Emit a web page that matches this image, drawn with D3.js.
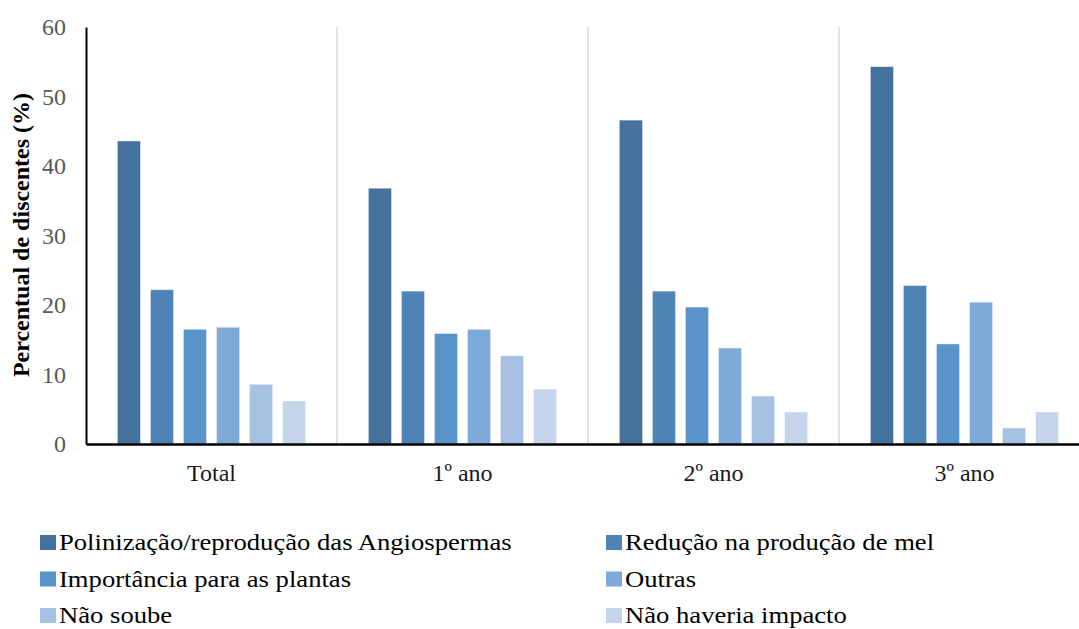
<!DOCTYPE html>
<html><head><meta charset="utf-8">
<script src="https://cdn.jsdelivr.net/npm/d3@7"></script>
<style>body{margin:0;background:#fff}</style>
</head><body>
<svg id="chart" width="1079" height="629"></svg>
<script>
const categories = ["Total", "1º ano", "2º ano", "3º ano"];
const seriesNames = [
  "Polinização/reprodução das Angiospermas",
  "Redução na produção de mel",
  "Importância para as plantas",
  "Outras",
  "Não soube",
  "Não haveria impacto"
];
// values per series, in category order
const polinizacao = [43.6, 36.8, 46.6, 54.3];
const reducaoMel  = [22.2, 22.0, 22.0, 22.8];
const importancia = [16.5, 15.9, 19.7, 14.4];
const outras      = [16.8, 16.5, 13.8, 20.4];
const naoSoube    = [8.6, 12.7, 6.9, 2.3];
const naoImpacto  = [6.2, 7.9, 4.6, 4.6];
const seriesValues = [polinizacao, reducaoMel, importancia, outras, naoSoube, naoImpacto];
const yTicks = [0, 10, 20, 30, 40, 50, 60];
const colors = ["#44729d", "#4e84b5", "#5894ca", "#7ea9d8", "#a6c1e3", "#c4d4ea"];

const FONT = "'Liberation Serif', 'Times New Roman', serif";
const svg = d3.select("#chart");
const m = {left: 86, right: 1090, top: 27, bottom: 444};

const x0 = d3.scaleBand().domain(categories).range([m.left, m.right]).padding(0);
const x1 = d3.scaleBand().domain(seriesNames).range([0, x0.bandwidth()])
  .paddingInner(0.3).paddingOuter(0.95);
const y = d3.scaleLinear().domain([0, 60]).range([m.bottom, m.top]);

// separators
svg.append("g").selectAll("line").data(categories.slice(1)).join("line")
  .attr("x1", d => x0(d)).attr("x2", d => x0(d))
  .attr("y1", m.top).attr("y2", m.bottom)
  .attr("stroke", "#d9d9d9").attr("stroke-width", 1.5);

// bars
const data = [];
categories.forEach((c, ci) => seriesNames.forEach((s, si) =>
  data.push({c, s, si, v: seriesValues[si][ci]})));
svg.append("g").selectAll("rect").data(data).join("rect")
  .attr("x", d => x0(d.c) + x1(d.s))
  .attr("width", x1.bandwidth())
  .attr("y", d => y(d.v))
  .attr("height", d => y(0) - y(d.v))
  .attr("fill", d => colors[d.si])
  .attr("stroke", "#ffffff").attr("stroke-opacity", 0.5).attr("stroke-width", 0.8);

// y axis
const yAxis = svg.append("g").attr("transform", `translate(${m.left},0)`)
  .call(d3.axisLeft(y).tickValues(yTicks).tickSize(0).tickPadding(20));
yAxis.select(".domain").attr("stroke", "#000").attr("stroke-width", 2);
yAxis.selectAll("text").attr("font-family", FONT)
  .attr("font-size", 24).attr("fill", "#595959");

// x axis
const xAxis = svg.append("g").attr("transform", `translate(0,${m.bottom})`)
  .call(d3.axisBottom(x0).tickSize(0).tickPadding(20));
xAxis.select(".domain").attr("stroke", "#000").attr("stroke-width", 2.5);
xAxis.selectAll("text").attr("font-family", FONT)
  .attr("font-size", 24).attr("fill", "#1a1a1a");

// y title
svg.append("text")
  .attr("transform", `translate(29,235) rotate(-90)`)
  .attr("text-anchor", "middle")
  .attr("font-family", FONT)
  .attr("font-weight", "bold").attr("font-size", 24).attr("fill", "#000")
  .text("Percentual de discentes (%)");

// legend
const leg = svg.append("g");
const legItems = leg.selectAll("g").data(seriesNames).join("g")
  .attr("transform", (d, i) => `translate(${i % 2 === 0 ? 40 : 606},${535 + Math.floor(i / 2) * 36.5})`);
legItems.append("rect").attr("width", 16).attr("height", 15)
  .attr("fill", (d, i) => colors[i]);
legItems.append("text")
  .attr("transform", "translate(19,15) scale(1.11,1)")
  .attr("font-family", FONT)
  .attr("font-size", 24).attr("fill", "#000")
  .text(d => d);
</script>
</body></html>
